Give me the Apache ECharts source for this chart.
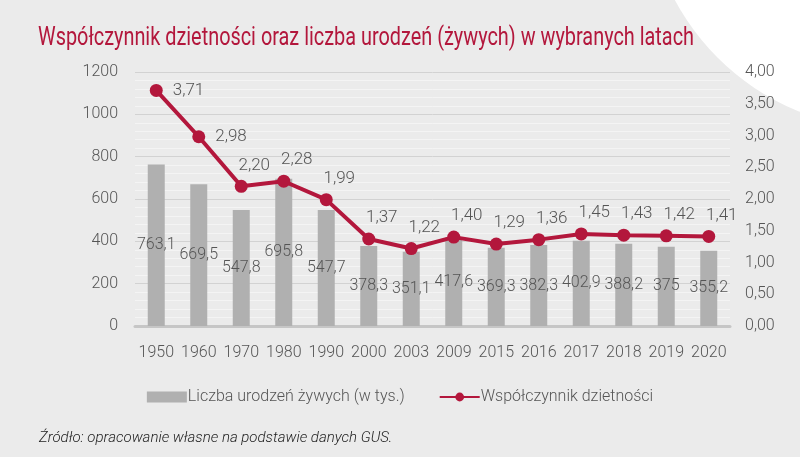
<!DOCTYPE html>
<html>
<head>
<meta charset="utf-8">
<script src="https://cdn.jsdelivr.net/npm/echarts@6/dist/echarts.min.js"></script>
<style>
  html, body { margin: 0; padding: 0; background: #ebebeb; }
  #chart { width: 800px; height: 457px; }
</style>
</head>
<body>
<div id="chart"></div>
<script>
var years = ['1950', '1960', '1970', '1980', '1990', '2000', '2003', '2009', '2015', '2016', '2017', '2018', '2019', '2020'];
var births = [763.1, 669.5, 547.8, 695.8, 547.7, 378.3, 351.1, 417.6, 369.3, 382.3, 402.9, 388.2, 375, 355.2];
var fertility = [3.71, 2.98, 2.20, 2.28, 1.99, 1.37, 1.22, 1.40, 1.29, 1.36, 1.45, 1.43, 1.42, 1.41];

var FONT = 'Roboto';
var LIGHT = 300;
var RED = '#b3173c';
var TITLE = 'Współczynnik dzietności oraz liczba urodzeń (żywych) w wybranych latach';
var TITLE_FONT = '26px Roboto';

function comma(v) {
    return String(v).replace('.', ',');
}

// squeeze the title to the width it takes in the original (condensed face)
var ctx = document.createElement('canvas').getContext('2d');
ctx.font = TITLE_FONT;
var titleScale = Math.min(1, 656 / ctx.measureText(TITLE).width);

var chart = echarts.init(document.getElementById('chart'));

chart.setOption({
    backgroundColor: '#ebebeb',
    textStyle: { fontFamily: FONT },
    graphic: [
        {
            type: 'circle',
            z: -10,
            silent: true,
            shape: { cx: 890, cy: -115, r: 244 },
            style: { fill: '#ffffff' }
        },
        {
            type: 'text',
            x: 38,
            y: 25,
            scaleX: titleScale,
            style: { text: TITLE, font: TITLE_FONT, fill: RED }
        },
        {
            type: 'text',
            left: 39,
            top: 431,
            style: {
                text: 'Źródło: opracowanie własne na podstawie danych GUS.',
                font: 'italic 300 15px Roboto',
                fill: '#222'
            }
        }
    ],
    legend: {
        top: 384,
        left: 'center',
        itemGap: 34,
        itemWidth: 40,
        itemHeight: 11,
        textStyle: { fontFamily: FONT, fontWeight: LIGHT, fontSize: 16, color: '#555', padding: [0, 0, 0, -4] },
        data: [
            { name: 'Liczba urodzeń żywych (w tys.)', icon: 'rect' },
            { name: 'Współczynnik dzietności' }
        ]
    },
    grid: { left: 135, right: 70, top: 72, bottom: 131 },
    xAxis: {
        type: 'category',
        data: years,
        axisLine: { lineStyle: { color: '#c6c6c6', width: 3 } },
        axisTick: { show: false },
        axisLabel: { interval: 0, fontFamily: FONT, fontWeight: LIGHT, fontSize: 16, color: '#555', margin: 19 }
    },
    yAxis: [
        {
            type: 'value',
            min: 0,
            max: 1200,
            interval: 200,
            axisLine: { show: false },
            axisTick: { show: false },
            axisLabel: {
                fontFamily: FONT,
                fontWeight: LIGHT,
                fontSize: 16,
                color: '#555',
                margin: 17,
                formatter: function (v) { return String(v); }
            },
            splitLine: { lineStyle: { color: '#d2d2d2', width: 1 } },
            minorTick: { show: false, splitNumber: 5 },
            minorSplitLine: { show: true, lineStyle: { color: '#f4f4f4', width: 1 } }
        },
        {
            type: 'value',
            min: 0,
            max: 4,
            interval: 0.5,
            axisLine: { show: false },
            axisTick: { show: false },
            splitLine: { show: false },
            axisLabel: {
                fontFamily: FONT,
                fontWeight: LIGHT,
                fontSize: 16,
                color: '#555',
                margin: 15,
                formatter: function (v) { return v.toFixed(2).replace('.', ','); }
            }
        }
    ],
    series: [
        {
            name: 'Liczba urodzeń żywych (w tys.)',
            type: 'bar',
            data: births,
            barWidth: 17,
            itemStyle: { color: '#b0b0b0' },
            label: {
                show: true,
                position: 'inside',
                fontFamily: FONT,
                fontWeight: LIGHT,
                fontSize: 16,
                color: '#555',
                formatter: function (p) { return comma(p.value); }
            }
        },
        {
            name: 'Współczynnik dzietności',
            type: 'line',
            yAxisIndex: 1,
            data: fertility.map(function (v, i) {
                if (i < 2) {
                    return { value: v, label: { position: 'right', distance: 10, offset: [0, 0] } };
                }
                return v;
            }),
            symbol: 'circle',
            symbolSize: 13,
            lineStyle: { color: RED, width: 4 },
            itemStyle: { color: RED },
            label: {
                show: true,
                position: 'top',
                distance: 6,
                offset: [13, 0],
                fontFamily: FONT,
                fontWeight: LIGHT,
                fontSize: 17,
                color: '#555',
                formatter: function (p) { return p.value.toFixed(2).replace('.', ','); }
            }
        }
    ]
});
</script>
</body>
</html>
